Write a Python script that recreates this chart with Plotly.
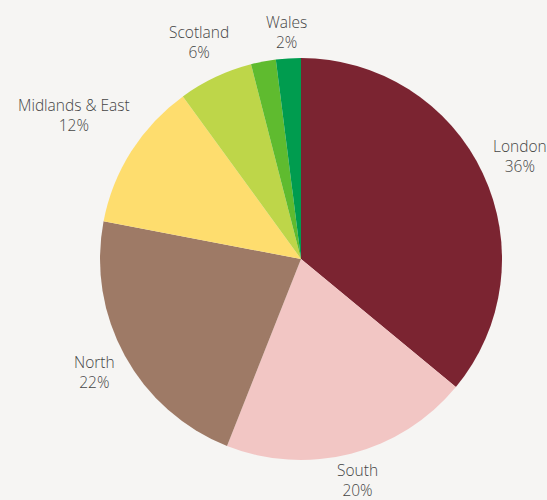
import math
import plotly.graph_objects as go

# Share of total by region, clockwise from 12 o'clock
regions = ["London", "South", "North", "Midlands & East", "Scotland", "Northern Ireland", "Wales"]
shares = [36, 20, 22, 12, 6, 2, 2]
colors = ["#7b2431", "#f2c6c4", "#9e7a66", "#fedd6e", "#bed649", "#5fbb2f", "#009c4f"]
# The small Northern Ireland slice is left without an outside label
show_label = [True, True, True, True, True, False, True]
# Distance of each label's centre from the pie centre, as a multiple of the radius
label_dist = [1.205, 1.135, 1.17, 1.335, 1.195, 1.0, 1.13]

W, H = 547, 500
M = dict(l=100, r=45, t=56, b=38)
plot_w = W - M["l"] - M["r"]
plot_h = H - M["t"] - M["b"]
radius = min(plot_w, plot_h) / 2

fig = go.Figure(
    go.Pie(
        labels=regions,
        values=shares,
        sort=False,
        direction="clockwise",
        rotation=0,
        marker=dict(colors=colors, line=dict(width=0)),
        textinfo="none",
        showlegend=False,
        hoverinfo="label+percent",
    )
)

# Outside labels placed at each slice's mid-angle
total = sum(shares)
cum = 0
for name, v, show, d in zip(regions, shares, show_label, label_dist):
    mid = (cum + v / 2) / total * 2 * math.pi
    cum += v
    if not show:
        continue
    dx = d * radius * math.sin(mid)
    dy = d * radius * math.cos(mid)
    fig.add_annotation(
        x=0.5 + dx / plot_w,
        y=0.5 + dy / plot_h,
        xref="paper",
        yref="paper",
        xanchor="center",
        yanchor="middle",
        align="center",
        showarrow=False,
        text=f"{name}<br>{round(v / total * 100)}%",
        font=dict(family="Open Sans", size=15.5, color="#454545", weight=300),
    )

fig.update_layout(
    width=W,
    height=H,
    margin=M,
    paper_bgcolor="#f6f5f3",
    plot_bgcolor="#f6f5f3",
    font=dict(family="Open Sans"),
)

fig.write_html("out.html")
